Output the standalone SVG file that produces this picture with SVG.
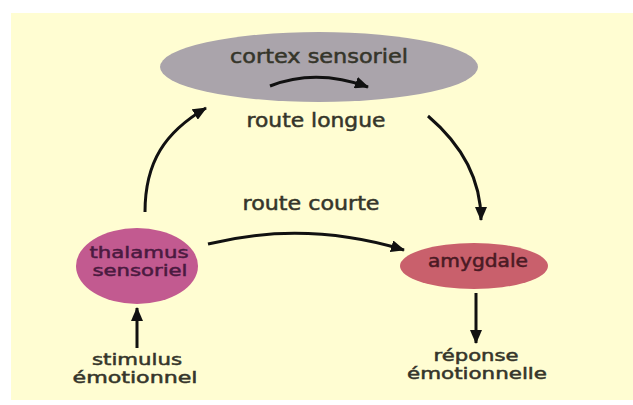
<svg xmlns="http://www.w3.org/2000/svg" width="633" height="405" viewBox="0 0 633 405">
<style>
.lbl{font-family:"DejaVu Sans","Verdana",sans-serif;font-size:19px;fill:#35352a;stroke:#35352a;stroke-width:0.5;text-anchor:middle}
.two{font-size:16px}
.th{fill:#4a1a40;stroke:#4a1a40}
.am{fill:#4a1a24;stroke:#4a1a24;font-size:17px}
.conn{fill:none;stroke:#111;stroke-width:3}
</style>
<defs>
<marker id="ah" viewBox="0 0 14 12" refX="13" refY="6" markerWidth="14" markerHeight="12" markerUnits="userSpaceOnUse" orient="auto">
<path d="M0,0 L14,6 L0,12 z" fill="#111"/>
</marker>
</defs>
<rect x="0" y="0" width="633" height="405" fill="#ffffff"/>
<rect x="11" y="13" width="622" height="387" fill="#fffdd2"/>
<g id="cortex">
<ellipse cx="319" cy="67" rx="159" ry="35" fill="#aaa4ab"/>
<text class="lbl" x="319" y="63" font-size="20" textLength="178" lengthAdjust="spacingAndGlyphs">cortex sensoriel</text>
</g>
<g id="thalamus">
<ellipse cx="137" cy="266" rx="61" ry="38" fill="#c25a90"/>
<text class="lbl two th" x="139" y="258" textLength="99" lengthAdjust="spacingAndGlyphs">thalamus</text>
<text class="lbl two th" x="140" y="276" textLength="95" lengthAdjust="spacingAndGlyphs">sensoriel</text>
</g>
<g id="amygdale">
<ellipse cx="474" cy="266" rx="74" ry="23" fill="#c9606c"/>
<text class="lbl am" x="478" y="267" textLength="100" lengthAdjust="spacingAndGlyphs">amygdale</text>
</g>
<g id="labels">
<text class="lbl" x="316" y="127" textLength="139" lengthAdjust="spacingAndGlyphs">route longue</text>
<text class="lbl" x="311" y="210" textLength="137" lengthAdjust="spacingAndGlyphs">route courte</text>
</g>
<g id="stimulus">
<text class="lbl two" x="137" y="365" textLength="90" lengthAdjust="spacingAndGlyphs">stimulus</text>
<text class="lbl two" x="135" y="383" textLength="125" lengthAdjust="spacingAndGlyphs">émotionnel</text>
</g>
<g id="reponse">
<text class="lbl two" x="476" y="361" textLength="85" lengthAdjust="spacingAndGlyphs">réponse</text>
<text class="lbl two" x="477" y="379" textLength="140" lengthAdjust="spacingAndGlyphs">émotionnelle</text>
</g>
<g id="connectors">
<path class="conn" d="M270,86 Q316,68 368,87" marker-end="url(#ah)"/>
<path class="conn" d="M145,212 C145,162 165,132 206,108" marker-end="url(#ah)"/>
<path class="conn" d="M428,116 C462,145 481,180 481,220" marker-end="url(#ah)"/>
<path class="conn" d="M208,244 Q305,220 404,250" marker-end="url(#ah)"/>
<path class="conn" d="M137,348 L137,308" marker-end="url(#ah)"/>
<path class="conn" d="M476,293 L476,343" marker-end="url(#ah)"/>
</g>
</svg>
